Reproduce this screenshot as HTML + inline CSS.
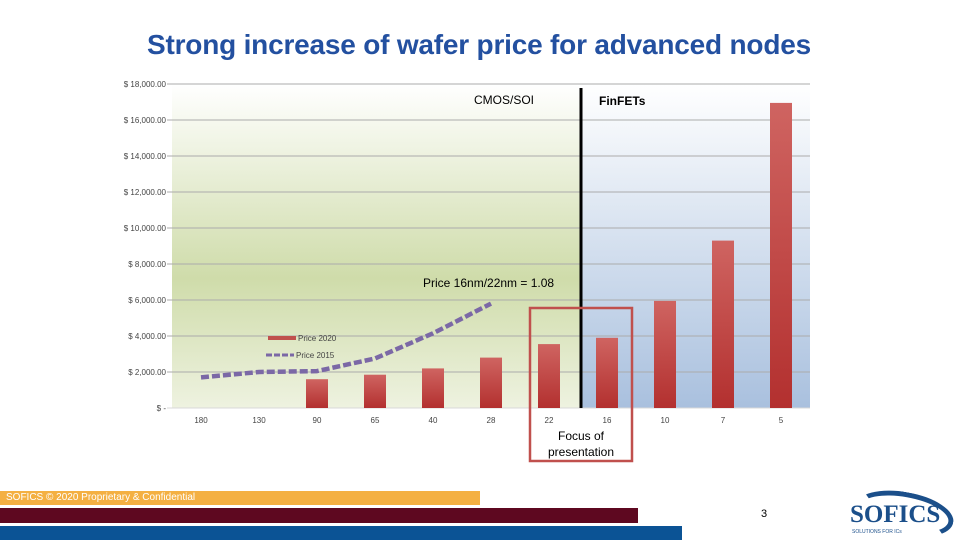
<!DOCTYPE html>
<html><head><meta charset="utf-8"><style>
body{margin:0;width:960px;height:540px;background:#fff;overflow:hidden;font-family:"Liberation Sans",sans-serif;position:relative}
.t{position:absolute}
</style></head><body>
<div class="t" style="left:0;width:958px;top:29px;text-align:center;font-size:28px;color:#2350a0;font-weight:bold;letter-spacing:-0.2px">Strong increase of wafer price for advanced nodes</div>
<svg width="960" height="540" style="position:absolute;left:0;top:0" id="svg">
<defs>
<linearGradient id="gg" x1="0" y1="0" x2="0" y2="1"><stop offset="0" stop-color="#ffffff"/><stop offset="0.6" stop-color="#cfdcaa"/><stop offset="1" stop-color="#eef2e0"/></linearGradient>
<linearGradient id="bg" x1="0" y1="0" x2="0" y2="1"><stop offset="0" stop-color="#ffffff"/><stop offset="1" stop-color="#a9c0de"/></linearGradient>
<linearGradient id="rg" x1="0" y1="0" x2="0" y2="1"><stop offset="0" stop-color="#cf6461"/><stop offset="1" stop-color="#b3302f"/></linearGradient>
</defs>
<g id="plot"></g>
</svg>
<div class="t" style="left:474px;top:93px;font-size:12px">CMOS/SOI</div>
<div class="t" style="left:599px;top:94px;font-size:12px;font-weight:bold">FinFETs</div>
<div class="t" style="left:423px;top:276px;font-size:12px">Price 16nm/22nm = 1.08</div>
<div class="t" style="left:530px;top:428px;width:102px;text-align:center;font-size:12px;line-height:16px">Focus of<br>presentation</div>
<div class="t" style="left:0;top:491px;width:480px;height:14px;background:#f4b042"></div>
<div class="t" style="left:6px;top:492px;font-size:10px;color:#fff">SOFICS © 2020 Proprietary &amp; Confidential</div>
<div class="t" style="left:0;top:508px;width:638px;height:15px;background:#5e0820"></div>
<div class="t" style="left:0;top:526px;width:682px;height:14px;background:#0b5395"></div>
<div class="t" style="left:761px;top:508px;font-size:11px">3</div>
<div class="t" style="left:846px;top:492px;width:112px;height:48px">
<div style="position:absolute;left:8px;top:0;width:100px;height:44px;border-radius:50%;border:5px solid #1b4f8a;border-left-color:transparent;border-bottom-color:transparent;box-sizing:border-box;transform:rotate(10deg)"></div>
<div style="position:absolute;left:4px;top:9px;font-family:'Liberation Serif',serif;font-size:25px;font-weight:bold;color:#1b4f8a">SOFICS</div>
<div style="position:absolute;left:6px;top:37px;font-size:5px;color:#1b4f8a">SOLUTIONS FOR ICs</div>
</div>
<script>
const categories=["180","130","90","65","40","28","22","16","10","7","5"];
const price2020=[null,null,1600,1850,2200,2800,3550,3900,5950,9300,16950];
const price2015=[1700,2000,2050,2750,4150,5800];
const yTicks=[0,2000,4000,6000,8000,10000,12000,14000,16000,18000];
const yTickLabels=["$ -","$ 2,000.00","$ 4,000.00","$ 6,000.00","$ 8,000.00","$ 10,000.00","$ 12,000.00","$ 14,000.00","$ 16,000.00","$ 18,000.00"];
const NS="http://www.w3.org/2000/svg";
const X0=172,X1=810,Y0=408,Y1=84,band=(X1-X0)/categories.length;
const x=i=>X0+band*(i+0.5);
const y=v=>Y0-(v/18000)*(Y0-Y1);
const g=document.getElementById('plot');
function mk(t,a){const e=document.createElementNS(NS,t);for(const k in a)e.setAttribute(k,a[k]);g.appendChild(e);return e;}
const div=581;
let e=mk('rect',{x:X0,y:Y1,width:div-X0,height:Y0-Y1,fill:'url(#gg)'});


e=mk('rect',{x:div,y:Y1,width:X1-div,height:Y0-Y1,fill:'url(#bg)'});


yTicks.forEach((v,i)=>{
 const l=mk('line',{x1:X0-5,x2:X1,y1:y(v),y2:y(v),stroke:i==0?'#d8d8d8':'#ababab','stroke-width':1});
 
 
 const t=mk('text',{x:X0-6,y:y(v)+3,'text-anchor':'end','font-size':8,fill:'#444','font-family':'Liberation Sans'});
 t.textContent=yTickLabels[i];
 
 
});
categories.forEach((c,i)=>{
 const t=mk('text',{x:x(i),y:423,'text-anchor':'middle','font-size':8,fill:'#444','font-family':'Liberation Sans'});
 t.textContent=c;
 
 
 if(price2020[i]!=null){
  const r=mk('rect',{x:x(i)-11,y:y(price2020[i]),width:22,height:Y0-y(price2020[i]),fill:'url(#rg)'});
  
  
 }
});
let d=price2015.map((v,i)=>(i?'L':'M')+x(i)+','+y(v)).join(' ');
e=mk('path',{d:d,fill:'none',stroke:'#7b68a6','stroke-width':4.5,'stroke-dasharray':'8 3','stroke-linejoin':'round'});


e=mk('line',{x1:div,x2:div,y1:88,y2:Y0,stroke:'#000','stroke-width':3});


e=mk('rect',{x:530,y:308,width:102,height:153,fill:'none',stroke:'#c0504d','stroke-width':2.5});


e=mk('rect',{x:268,y:336,width:28,height:4,fill:'#c0504d'});


e=mk('line',{x1:266,x2:294,y1:355,y2:355,stroke:'#7b68a6','stroke-width':3,'stroke-dasharray':'6 2'});


e=mk('text',{x:298,y:341,'font-size':8,fill:'#444'});e.textContent='Price 2020';


e=mk('text',{x:296,y:358,'font-size':8,fill:'#444'});e.textContent='Price 2015';


</script>
</body></html>
